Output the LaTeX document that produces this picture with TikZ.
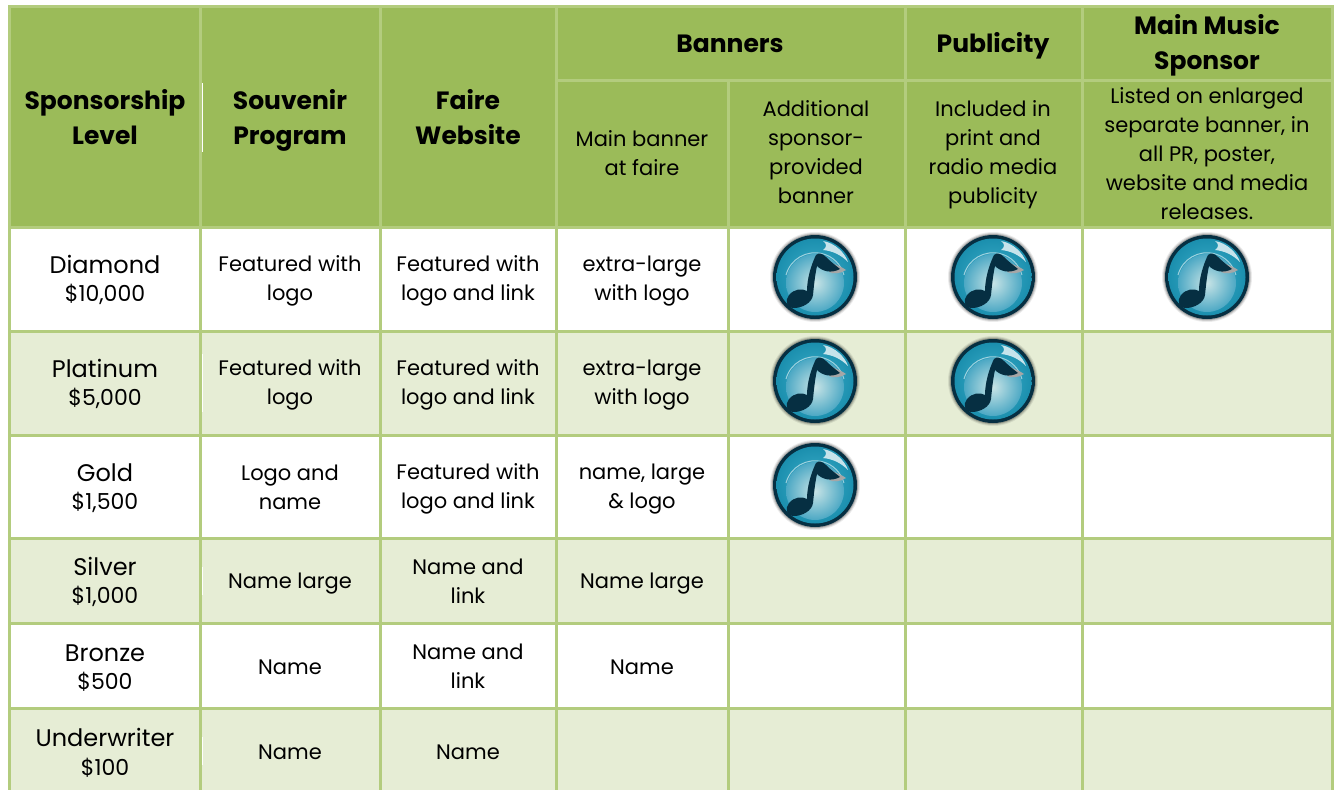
\documentclass[tikz,border=0pt]{standalone}
\usepackage{fontspec}
\setmainfont{Poppins}
\definecolor{hdr}{HTML}{9BBB59}
\definecolor{grid}{HTML}{B3CC7E}
\definecolor{band}{HTML}{E6EDD5}
\definecolor{noteD}{HTML}{062F42}
\definecolor{ringA}{HTML}{1B8FAE}
\definecolor{ringB}{HTML}{3FB0CB}
\definecolor{ballA}{HTML}{C8E4E6}
\definecolor{ballB}{HTML}{4CA8C4}
\tikzset{
  gl/.style={draw=grid,line width=3pt},
  lbl/.style={align=center,text=black,inner sep=0pt,font=\fontsize{21}{29}\selectfont},
  lvl/.style={align=center,text=black,inner sep=0pt,font=\fontsize{24}{30}\selectfont},
  hd/.style={align=center,text=black,inner sep=0pt,font=\fontsize{25}{35}\selectfont\bfseries},
  sub/.style={align=center,text=black,inner sep=0pt,font=\fontsize{21}{29}\selectfont},
  icon/.pic={
    \foreach \r/\o in {45/.08,44/.12,43/.2} \fill[black,opacity=\o] (0,0) circle (\r);
    \fill[noteD] (0,0) circle (42);
    \shade[inner color=ringB,outer color=ringA] (0,0) circle (38.5);
    \shade[inner color=ballA,outer color=ballB] (0,6) circle (29);
    \draw[white,opacity=.55,line width=1pt] (-29,-2) arc (195:345:30);
    \fill[white,opacity=.75] (8,-36) .. controls (20,-34) and (30,-24) .. (33,-15) .. controls (26,-22) and (18,-26) .. (8,-27) .. controls (12,-30) and (12,-33) .. (8,-36) -- cycle;
    \fill[black!35] (16,-14) .. controls (22,-12) and (27,-10) .. (31,-7) .. controls (25,-3) and (18,-3) .. (14,-5) -- cycle;
    \fill[noteD] (1,-22) .. controls (4,-25) and (8,-23) .. (11,-20)
      .. controls (15,-16) and (20,-12) .. (25,-8)
      .. controls (16,-3) and (7,-6) .. (2,-11)
      .. controls (0,-2) and (-1,8) .. (-2,18)
      .. controls (-3,26) and (-13,31) .. (-21,31)
      .. controls (-29,31) and (-30,23) .. (-26,18)
      .. controls (-21,12) and (-13,11) .. (-8,14)
      .. controls (-8,2) and (-4,-12) .. (1,-22) -- cycle;
  }
}
\begin{document}
\begin{tikzpicture}[x=1pt,y=-1pt]
\useasboundingbox (0,0) rectangle (1334,790);
\fill[white] (0,0) rectangle (1334,790);
% fills
\fill[hdr] (9.5,6.5) rectangle (1332.5,227.5);
\fill[band] (9.5,331) rectangle (1332.5,435);
\fill[band] (9.5,538) rectangle (1332.5,623);
\fill[band] (9.5,708) rectangle (1332.5,790);
% grid
\draw[gl] (8,6.5) -- (1334,6.5);
\draw[gl] (556,80) -- (1334,80);
\foreach \y in {227.5,331,435,538,623,708} \draw[gl] (8,\y) -- (1334,\y);
\foreach \x in {9.5,200.5,380.5,556,905,1082,1332.5} \draw[gl] (\x,5) -- (\x,790);
\draw[gl] (728,80) -- (728,790);
% white ticks
\draw[white,line width=.8pt] (202.5,83) -- (202.5,152);
\draw[white,line width=.8pt] (202.5,354) -- (202.5,412);
\draw[white,line width=.8pt] (202.5,567) -- (202.5,595);
\draw[white,line width=.8pt] (202.5,737) -- (202.5,765);
% header
\node[hd] (h1) at (105,117) {Sponsorship\\Level};
\node[hd] (h2) at (290,120) {Souvenir\\Program};
\node[hd] (h3) at (468,117) {Faire\\Website};
\node[hd] (h4) at (730,44) {Banners};
\node[hd] (h5) at (993,46) {Publicity};
\node[hd] (h6) at (1207,45) {Main Music\\Sponsor};
\node[sub] (s1) at (642,153) {Main banner\\at faire};
\node[sub] (s2) at (816,152) {Additional\\sponsor-\\provided\\banner};
\node[sub] (s3) at (993,155) {Included in\\print and\\radio media\\publicity};
\node[sub] (s4) at (1207,154) {Listed on enlarged\\separate banner, in\\all PR, poster,\\website and media\\releases.};
% levels
\node[lvl] (l1) at (105,280) {Diamond\\[-2pt]{\fontsize{22}{29}\selectfont \$10,000}};
\node[lvl] (l2) at (105,384) {Platinum\\[-2pt]{\fontsize{22}{29}\selectfont \$5,000}};
\node[lvl] (l3) at (105,488) {Gold\\[-2pt]{\fontsize{22}{29}\selectfont \$1,500}};
\node[lvl] (l4) at (105,582) {Silver\\[-2pt]{\fontsize{22}{29}\selectfont \$1,000}};
\node[lvl] (l5) at (105,668) {Bronze\\[-2pt]{\fontsize{22}{29}\selectfont \$500}};
\node[lvl] (l6) at (105,752.5) {Underwriter\\[-1pt]{\fontsize{22}{29}\selectfont \$100}};
% souvenir
\node[lbl] (a1) at (290,281) {Featured with\\logo};
\node[lbl] (a2) at (290,385) {Featured with\\logo};
\node[lbl] (a3) at (290,487) {Logo and\\name};
\node[lbl] (a4) at (290,584) {Name large};
\node[lbl] (a5) at (290,667) {Name};
\node[lbl] (a6) at (290,752) {Name};
% website
\node[lbl] (b1) at (468,281) {Featured with\\logo and link};
\node[lbl] (b2) at (468,385) {Featured with\\logo and link};
\node[lbl] (b3) at (468,489) {Featured with\\logo and link};
\node[lbl] (b4) at (468,581) {Name and\\link};
\node[lbl] (b5) at (468,666) {Name and\\link};
\node[lbl] (b6) at (468,752) {Name};
% banner
\node[lbl] (c1) at (642,281) {extra-large\\with logo};
\node[lbl] (c2) at (642,385) {extra-large\\with logo};
\node[lbl] (c3) at (642,489) {name, large\\\& logo};
\node[lbl] (c4) at (642,584) {Name large};
\node[lbl] (c5) at (642,667) {Name};
% icons
\pic at (815,277) {icon};
\pic at (815,381) {icon};
\pic at (815,485) {icon};
\pic at (993,277) {icon};
\pic at (993,381) {icon};
\pic at (1207,277) {icon};
\end{tikzpicture}
\end{document}
